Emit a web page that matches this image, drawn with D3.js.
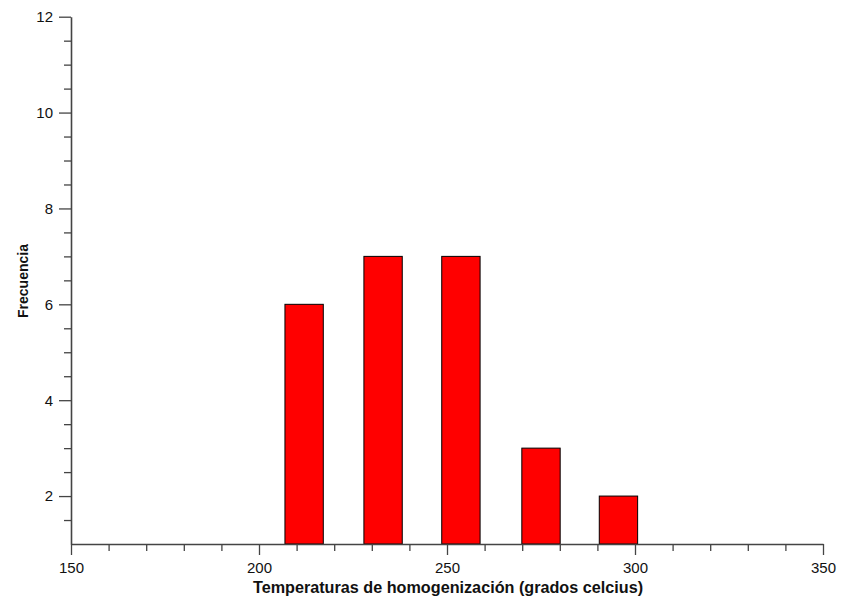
<!DOCTYPE html>
<html><head><meta charset="utf-8">
<script src="https://cdn.jsdelivr.net/npm/d3@7"></script>
<style>body{margin:0;background:#fff;} text{font-family:"Liberation Sans",Arial,sans-serif;}</style>
</head><body>
<svg id="c" width="842" height="600"></svg>
<script>
const binCenters = [212, 233, 253.7, 275, 295.6];
const frequencies = [6, 7, 7, 3, 2];
const xMajorTicks = [150, 200, 250, 300, 350];
const yMajorTicks = [2, 4, 6, 8, 10, 12];
const xLabel = "Temperaturas de homogenización (grados celcius)";
const yLabel = "Frecuencia";
const barWidth = 10.2;

const svg = d3.select("#c");
const x = d3.scaleLinear().domain([150, 350]).range([71, 823]);
const y = d3.scaleLinear().domain([1, 12]).range([544, 16.7]);

// bars
svg.append("g").selectAll("rect").data(binCenters).join("rect")
  .attr("x", (d) => x(d - barWidth / 2))
  .attr("width", (d) => x(d + barWidth / 2) - x(d - barWidth / 2))
  .attr("y", (d, i) => y(frequencies[i]))
  .attr("height", (d, i) => y(1) - y(frequencies[i]))
  .attr("fill", "#ff0000").attr("stroke", "#000").attr("stroke-width", 1);

const axisColor = "#444";
// x minor ticks
const xMinor = d3.range(150, 351, 10).filter(v => !xMajorTicks.includes(v));
const gx = svg.append("g").attr("transform", `translate(0,${y(1)})`);
gx.call(d3.axisBottom(x).tickValues(xMinor).tickSize(7).tickFormat(""));
gx.call(g => g.select(".domain").remove());
const gx2 = svg.append("g").attr("transform", `translate(0,${y(1)})`);
gx2.call(d3.axisBottom(x).tickValues(xMajorTicks).tickSize(11).tickSizeOuter(0).tickPadding(7).tickFormat(d3.format("d")));
[gx, gx2].forEach(g => {
  g.selectAll("line").attr("stroke", axisColor).attr("stroke-width", 1.3);
  g.selectAll(".domain").attr("stroke", axisColor).attr("stroke-width", 1.6);
  g.selectAll("text").attr("font-size", 15).attr("fill", "#111").attr("font-family", "Liberation Sans, Arial, sans-serif");
});

const yMinor = d3.range(1.5, 12, 0.5).filter(v => !yMajorTicks.includes(v));
const gy = svg.append("g").attr("transform", `translate(${x(150)},0)`);
gy.call(d3.axisLeft(y).tickValues(yMinor).tickSize(7).tickFormat(""));
gy.call(g => g.select(".domain").remove());
const gy2 = svg.append("g").attr("transform", `translate(${x(150)},0)`);
gy2.call(d3.axisLeft(y).tickValues(yMajorTicks).tickSize(12).tickSizeOuter(0).tickPadding(6).tickFormat(d3.format("d")));
[gy, gy2].forEach(g => {
  g.selectAll("line").attr("stroke", axisColor).attr("stroke-width", 1.3);
  g.selectAll(".domain").attr("stroke", axisColor).attr("stroke-width", 1.6);
  g.selectAll("text").attr("font-size", 15).attr("fill", "#111").attr("font-family", "Liberation Sans, Arial, sans-serif");
});

svg.append("text").attr("x", 448).attr("y", 593).attr("text-anchor", "middle")
  .attr("font-size", 16.2).attr("font-weight", "bold").attr("fill", "#111").text(xLabel);
svg.append("text").attr("transform", "translate(28,281) rotate(-90)").attr("text-anchor", "middle")
  .attr("font-size", 14).attr("font-weight", "bold").attr("fill", "#111").text(yLabel);
</script>
</body></html>
